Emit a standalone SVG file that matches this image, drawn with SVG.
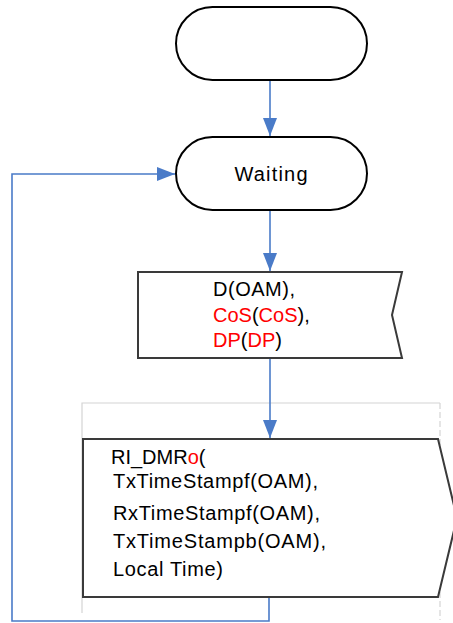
<svg xmlns="http://www.w3.org/2000/svg" width="453" height="623" viewBox="0 0 453 623">
<style>
.term{fill:#fff;stroke:#000;stroke-width:2}
.sig{fill:#fff;stroke:#3a3a3a;stroke-width:2}
.frame{fill:none;stroke:#d4d4d4;stroke-width:1.2}
.conn{fill:none;stroke:#4a7bc8;stroke-width:1.6}
text{font-family:"Liberation Sans",Arial,sans-serif;font-size:20px;fill:#000}
.r{fill:#ff0000}
</style>
<defs>
<marker id="ah" markerUnits="userSpaceOnUse" markerWidth="20" markerHeight="14" refX="18" refY="7" orient="auto">
<path d="M0,0 L18,7 L0,14 Z" fill="#4a7bc8"/>
</marker>
</defs>
<g id="frame">
<path class="frame" d="M82,613 V403 H440"/>
<path class="frame" d="M440,403 V620" stroke-dasharray="6,3"/>
</g>
<g id="connectors">
<path class="conn" d="M270,80 V136" marker-end="url(#ah)"/>
<path class="conn" d="M270,210 V271" marker-end="url(#ah)"/>
<path class="conn" d="M270,358 V438" marker-end="url(#ah)"/>
<path class="conn" d="M269,597 V621 H12 V174 H175" marker-end="url(#ah)"/>
</g>
<g id="start">
<rect class="term" x="176" y="7" width="191" height="73" rx="36.5"/>
</g>
<g id="waiting">
<rect class="term" x="176" y="137" width="191" height="73" rx="36.5"/>
<text x="271" y="181" text-anchor="middle" textLength="73" lengthAdjust="spacing">Waiting</text>
</g>
<g id="input">
<path class="sig" d="M138,272 H402 L392,315 L402,358 H138 Z"/>
<text x="213" y="296" textLength="82" lengthAdjust="spacing">D(OAM),</text>
<text x="213" y="322"><tspan class="r">CoS</tspan>(<tspan class="r">CoS</tspan>),</text>
<text x="213" y="347"><tspan class="r">DP</tspan>(<tspan class="r">DP</tspan>)</text>
</g>
<g id="output">
<path class="sig" d="M83,439 H438 L457,518 L438,597 H83 Z"/>
<text x="111" y="464">RI_DMR<tspan class="r">o</tspan>(</text>
<text x="113" y="488" textLength="205" lengthAdjust="spacing">TxTimeStampf(OAM),</text>
<text x="113" y="520" textLength="207" lengthAdjust="spacing">RxTimeStampf(OAM),</text>
<text x="113" y="548" textLength="213" lengthAdjust="spacing">TxTimeStampb(OAM),</text>
<text x="113" y="576" textLength="110" lengthAdjust="spacing">Local Time)</text>
</g>
</svg>
